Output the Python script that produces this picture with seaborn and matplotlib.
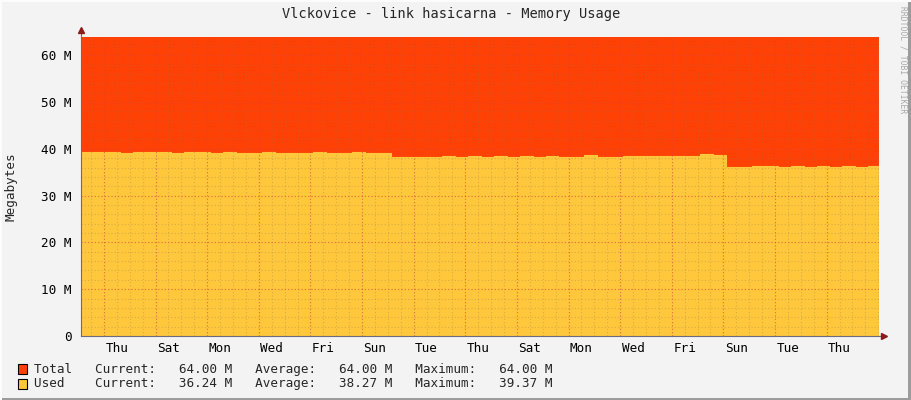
import numpy as np
import matplotlib
matplotlib.use("Agg")
import matplotlib.pyplot as plt
import seaborn as sns
from matplotlib.patches import Rectangle

# Memory usage, 12 hour samples, in MB
total = [64.0] * 62
used = [39.35, 39.25, 39.30, 39.20, 39.30, 39.37, 39.30, 39.20, 39.35, 39.25,
        39.20, 39.25, 39.20, 39.20, 39.25, 39.20, 39.20, 39.20, 39.30, 39.20,
        39.20, 39.30, 39.20, 39.20, 38.35, 38.30, 38.30, 38.30, 38.40, 38.30,
        38.45, 38.30, 38.40, 38.30, 38.45, 38.30, 38.45, 38.30, 38.30, 38.65,
        38.35, 38.30, 38.45, 38.40, 38.40, 38.50, 38.55, 38.50, 38.85, 38.70,
        36.15, 36.15, 36.30, 36.30, 36.20, 36.30, 36.15, 36.30, 36.20, 36.30,
        36.20, 36.25]
day_labels = ["Thu", "Sat", "Mon", "Wed", "Fri", "Sun", "Tue", "Thu",
              "Sat", "Mon", "Wed", "Fri", "Sun", "Tue", "Thu"]
ytick_labels = ["0", "10 M", "20 M", "30 M", "40 M", "50 M", "60 M"]
legend_rows = [
    ("Total", "64.00 M", "64.00 M", "64.00 M"),
    ("Used", "36.24 M", "38.27 M", "39.37 M"),
]

span_days = 30.92
first_thu = 0.89  # Thursday 00:00, days after start

c_total = "#FF4105"
c_used = "#FFC73B"
bg = "#F3F3F3"
mono = "DejaVu Sans Mono"

sns.set_style("white")
plt.rcParams["font.family"] = [mono]

fig = plt.figure(figsize=(9.11, 4.0), dpi=100, facecolor=bg)
ax = fig.add_axes([81 / 911, 1 - 336 / 400, 798 / 911, 299.5 / 400])
ax.set_facecolor(bg)

# sample start times, last step held to the right edge
t = np.append(np.arange(len(used)) * 0.5, span_days)
used_s = used + used[-1:]
total_s = total + total[-1:]
ax.fill_between(t, 0, total_s, step="post", color=c_total, lw=0, zorder=1)
ax.fill_between(t, 0, used_s, step="post", color=c_used, lw=0, zorder=2)
sns.lineplot(x=t, y=used_s, drawstyle="steps-post", color=c_used, lw=0.8,
             ax=ax, zorder=2)

ax.set_xlim(0, span_days)
ax.set_ylim(0, 64)

# grid like rrdtool: minor 12h / 2M, major 2 days / 10M
minor_x = np.arange(first_thu % 0.5, span_days, 0.5)
major_x = np.arange(first_thu, span_days - 0.1, 2.0)
for xv in minor_x:
    ax.axvline(xv, color=(0.5, 0.45, 0.4, 0.3), lw=0.8, ls=(0, (1, 2)), zorder=3)
for yv in np.arange(2, 64, 2):
    ax.axhline(yv, color=(0.5, 0.45, 0.4, 0.3), lw=0.8, ls=(0, (1, 2)), zorder=3)
for xv in major_x:
    ax.axvline(xv, color=(1, 0.2, 0.2, 0.5), lw=0.8, ls=(0, (1, 2)), zorder=4)
for yv in np.arange(10, 64, 10):
    ax.axhline(yv, color=(1, 0.2, 0.2, 0.5), lw=0.8, ls=(0, (1, 2)), zorder=4)

ax.set_xticks(first_thu + 0.5 + 2 * np.arange(len(day_labels)))
ax.set_xticklabels(day_labels)
ax.set_yticks(np.arange(0, 61, 10))
ax.set_yticklabels(ytick_labels)
ax.tick_params(axis="both", length=0, labelsize=9.1, colors="#000000")
ax.tick_params(axis="x", pad=4)
ax.tick_params(axis="y", pad=7)
ax.set_ylabel("Megabytes", fontsize=9.1, labelpad=17)

for s in ["top", "right"]:
    ax.spines[s].set_visible(False)
ax.spines["left"].set_color("#6b6b80")
ax.spines["bottom"].set_color("#6b6b80")
ax.spines["left"].set_linewidth(0.8)
ax.spines["bottom"].set_linewidth(0.8)
ax.spines["left"].set_zorder(6)
ax.spines["bottom"].set_zorder(6)

# axis arrows
ax.plot([span_days, span_days + 0.2], [0, 0], color="#6b6b80", lw=0.8,
        clip_on=False, zorder=6)
ax.plot(span_days + 0.2, 0, marker=">", color="#8B1A1A", ms=4,
        clip_on=False, zorder=7)
ax.plot([0, 0], [64, 65.3], color="#6b6b80", lw=0.8, clip_on=False, zorder=6)
ax.plot(0, 65.3, marker="^", color="#8B1A1A", ms=4, clip_on=False, zorder=7)

fig.text(451 / 911, 1 - 14 / 400, "Vlckovice - link hasicarna - Memory Usage",
         ha="center", va="center", fontsize=9.8)
fig.text(903 / 911, 1 - 6 / 400, "RRDTOOL / TOBI OETIKER", rotation=270,
         ha="center", va="top", fontsize=5.8, color="#a8a8a8")

# legend rows
for i, (name, cur, avg, mx) in enumerate(legend_rows):
    yc = 369 + 15 * i
    fig.patches.append(Rectangle((18 / 911, 1 - (yc + 5) / 400), 9 / 911,
                                 10 / 400, transform=fig.transFigure,
                                 facecolor=c_total if i == 0 else c_used,
                                 edgecolor="black", lw=0.8))
    line = f"{name:<8}Current:   {cur}   Average:   {avg}   Maximum:   {mx}"
    fig.text(34 / 911, 1 - yc / 400, line, ha="left", va="center",
             fontsize=9.1)

# 3d frame
fig.patches.append(Rectangle((0, 0), 1, 2 / 400, transform=fig.transFigure,
                             facecolor="#9c9c9c", lw=0))
fig.patches.append(Rectangle((1 - 3 / 911, 0), 3 / 911, 1,
                             transform=fig.transFigure, facecolor="#9c9c9c", lw=0))
fig.patches.append(Rectangle((0, 1 - 2 / 400), 1, 2 / 400,
                             transform=fig.transFigure, facecolor="#fcfcfc", lw=0))
fig.patches.append(Rectangle((0, 0), 2 / 911, 1, transform=fig.transFigure,
                             facecolor="#fcfcfc", lw=0))

fig.savefig("out.png", dpi=100, facecolor=bg)
